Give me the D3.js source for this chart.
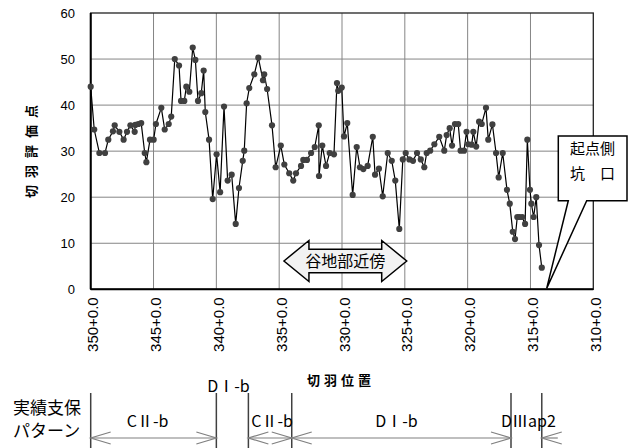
<!DOCTYPE html>
<meta charset="utf-8">
<style>
  body { margin: 0; background: #fff; }
  svg { font-family: "Liberation Sans", Arial, sans-serif; }
  .jp { font-family: "Noto Sans CJK JP", sans-serif; }
</style>
<svg id="svg" width="637" height="448"></svg>
<script src="https://cdn.jsdelivr.net/npm/d3@7"></script>
<script>

// ----------------------------------------------------------------------------
//                               DATA
// ----------------------------------------------------------------------------
// Face position (chainage, m) of each evaluation.
var chainage = [
  350.00, 349.72, 349.31, 348.86, 348.60, 348.23, 348.09, 347.72, 347.38, 347.11,
  346.84, 346.50, 346.45, 346.21, 345.98, 345.70, 345.57, 345.28, 344.99, 344.81,
  344.38, 344.11, 343.79, 343.59, 343.31, 342.97, 342.81, 342.55, 342.39, 342.15,
  341.88, 341.67, 341.46, 341.20, 341.01, 340.88, 340.58, 340.29, 339.98, 339.70,
  339.39, 339.10, 338.78, 338.46, 338.20, 337.90, 337.78, 337.59, 337.38, 336.98,
  336.66, 336.29, 336.19, 335.96, 335.57, 335.28, 334.87, 334.59, 334.20, 333.88,
  333.66, 333.26, 333.08, 332.79, 332.46, 332.17, 331.85, 331.83, 331.57, 331.27,
  330.98, 330.64, 330.40, 330.30, 330.02, 329.84, 329.58, 329.15, 328.83, 328.57,
  328.30, 327.96, 327.55, 327.37, 327.06, 326.76, 326.36, 326.04, 325.76, 325.44,
  325.16, 324.93, 324.64, 324.35, 324.03, 323.73, 323.45, 323.26, 322.98, 322.65,
  322.26, 321.86, 321.67, 321.43, 321.24, 321.01, 320.75, 320.56, 320.29, 320.09,
  319.95, 319.68, 319.55, 319.32, 319.09, 318.88, 318.54, 318.36, 318.03, 317.74,
  317.53, 317.21, 316.87, 316.65, 316.41, 316.23, 316.05, 315.89, 315.66, 315.43,
  315.25, 315.04, 314.93, 314.75, 314.54, 314.32, 314.10
];

// Face evaluation score.
var score = [
  44.0, 34.7, 29.6, 29.6, 32.5, 34.3, 35.6, 34.2, 32.5, 34.2,
  35.6, 34.2, 35.7, 35.9, 36.1, 29.6, 27.6, 32.5, 32.5, 35.9,
  39.4, 34.7, 35.9, 37.5, 50.0, 48.6, 40.9, 40.9, 44.0, 42.9,
  52.5, 49.8, 40.9, 42.6, 47.5, 38.5, 32.5, 19.6, 29.3, 21.1,
  39.7, 23.6, 24.9, 14.2, 22.0, 27.9, 30.1, 40.4, 43.7, 46.7,
  50.3, 45.4, 46.7, 43.5, 35.6, 26.5, 31.2, 27.1, 25.2, 23.6,
  25.2, 26.8, 28.1, 28.1, 29.6, 30.9, 35.6, 24.6, 31.2, 26.8,
  29.6, 29.3, 44.8, 43.1, 43.8, 33.2, 36.1, 20.5, 30.9, 26.5,
  26.1, 26.8, 33.1, 24.9, 26.2, 20.2, 29.6, 27.9, 23.6, 13.1,
  28.2, 29.6, 28.2, 27.9, 29.6, 28.2, 26.5, 29.6, 30.1, 31.5,
  33.1, 30.1, 33.5, 35.0, 31.2, 35.9, 35.9, 30.1, 30.1, 34.2,
  31.5, 31.4, 34.2, 31.0, 36.4, 35.9, 39.4, 32.5, 35.8, 29.6,
  24.3, 29.6, 21.6, 18.6, 12.5, 10.9, 15.7, 15.7, 15.7, 14.2,
  32.5, 21.6, 18.6, 15.7, 20.0, 9.6, 4.7
];

// Axis ticks.
var xTicks = [350, 345, 340, 335, 330, 325, 320, 315, 310];
var xTickLabels = ["350+0.0", "345+0.0", "340+0.0", "335+0.0", "330+0.0",
                   "325+0.0", "320+0.0", "315+0.0", "310+0.0"];
var yTicks = [0, 10, 20, 30, 40, 50, 60];

// Actual support pattern boundaries and names.
var supportBounds = [350, 340, 337.45, 334.0, 316.55, 314.1];
var supportNames = ["CⅡ-b", "DⅠ-b", "CⅡ-b", "DⅠ-b", "DⅢap2"];

// ----------------------------------------------------------------------------
//                               CHART
// ----------------------------------------------------------------------------
var svg = d3.select("svg");
var pLeft = 90.7, pTop = 13, pRight = 593.3, pBottom = 289.3;

var x = d3.scaleLinear().domain([350, 310]).range([pLeft, pRight]);
var y = d3.scaleLinear().domain([0, 60]).range([pBottom, pTop]);

// Grid lines
svg.append("g").selectAll("line")
  .data(xTicks.slice(1, -1))
  .enter().append("line")
    .attr("x1", d => x(d)).attr("x2", d => x(d))
    .attr("y1", pTop).attr("y2", pBottom)
    .attr("stroke", "#858585").attr("stroke-width", 1);

svg.append("g").selectAll("line")
  .data(yTicks.slice(1, -1))
  .enter().append("line")
    .attr("x1", pLeft).attr("x2", pRight)
    .attr("y1", d => y(d)).attr("y2", d => y(d))
    .attr("stroke", "#858585").attr("stroke-width", 1);

// Plot frame
svg.append("rect")
  .attr("x", pLeft).attr("y", pTop)
  .attr("width", pRight - pLeft).attr("height", pBottom - pTop)
  .attr("fill", "none").attr("stroke", "#222").attr("stroke-width", 1.3);
svg.append("line")
  .attr("x1", pLeft).attr("x2", pLeft).attr("y1", pTop).attr("y2", pBottom)
  .attr("stroke", "#000").attr("stroke-width", 2);
svg.append("line")
  .attr("x1", pLeft).attr("x2", pRight).attr("y1", pBottom).attr("y2", pBottom)
  .attr("stroke", "#000").attr("stroke-width", 2);

// Y tick labels
svg.append("g").selectAll("text")
  .data(yTicks)
  .enter().append("text")
    .attr("x", 75).attr("y", d => y(d))
    .attr("dy", "0.35em")
    .attr("text-anchor", "end")
    .attr("font-size", 13)
    .text(d => d);

// X tick labels (rotated)
svg.append("g").selectAll("text")
  .data(xTicks)
  .enter().append("text")
    .attr("transform", d => "translate(" + (x(d) + 7.5) + "," + (pBottom + 8) + ") rotate(-90)")
    .attr("text-anchor", "end")
    .attr("font-size", 15)
    .text((d, i) => xTickLabels[i]);

// Axis titles
svg.append("text")
  .attr("class", "jp")
  .attr("transform", "translate(36,148) rotate(-90)")
  .attr("text-anchor", "middle")
  .attr("font-size", 13).attr("font-weight", "bold")
  .attr("letter-spacing", 7)
  .text("切羽評価点");

svg.append("text")
  .attr("class", "jp")
  .attr("x", 341).attr("y", 385)
  .attr("text-anchor", "middle")
  .attr("font-size", 13).attr("font-weight", "bold")
  .attr("letter-spacing", 4)
  .text("切羽位置");

// "谷地部近傍" double arrow
var aL = x(334.62), aR = x(324.85), aY = y(6.15);
var headLen = 25, headH = 20.5, shaftH = 11.7;
svg.append("path")
  .attr("d", [
    "M", aL, aY,
    "L", aL + headLen, aY - headH,
    "L", aL + headLen, aY - shaftH,
    "L", aR - headLen, aY - shaftH,
    "L", aR - headLen, aY - headH,
    "L", aR, aY,
    "L", aR - headLen, aY + headH,
    "L", aR - headLen, aY + shaftH,
    "L", aL + headLen, aY + shaftH,
    "L", aL + headLen, aY + headH, "Z"].join(" "))
  .attr("fill", "#f2f2f2").attr("stroke", "#000").attr("stroke-width", 1.5);
svg.append("text")
  .attr("class", "jp")
  .attr("x", (aL + aR) / 2).attr("y", aY)
  .attr("dy", "0.36em")
  .attr("text-anchor", "middle")
  .attr("font-size", 16)
  .text("谷地部近傍");

// Callout "起点側 坑口"
var tipX = x(313.71), tipY = y(0.2);
svg.append("path")
  .attr("d", "M558.3,136 L627,136 L627,200.7 L586.7,200.7 L" + tipX + "," + tipY +
             " L568.3,200.7 L558.3,200.7 Z")
  .attr("fill", "#fff").attr("stroke", "#000").attr("stroke-width", 1.5);
svg.append("text")
  .attr("class", "jp")
  .attr("x", 570).attr("y", 154)
  .attr("font-size", 15)
  .text("起点側");
svg.append("text")
  .attr("class", "jp")
  .attr("x", 570).attr("y", 179)
  .attr("font-size", 15)
  .text("坑　口");

// Data line + markers
var line = d3.line()
  .x((d, i) => x(chainage[i]))
  .y(d => y(d));

svg.append("path")
  .datum(score)
  .attr("d", line)
  .attr("fill", "none").attr("stroke", "#000").attr("stroke-width", 1.2);

svg.append("g").selectAll("circle")
  .data(score)
  .enter().append("circle")
    .attr("cx", (d, i) => x(chainage[i]))
    .attr("cy", d => y(d))
    .attr("r", 3.1)
    .attr("fill", "#404040");

// ----------------------------------------------------------------------------
//                        Support pattern strip
// ----------------------------------------------------------------------------
svg.append("text").attr("class", "jp")
  .attr("x", 13).attr("y", 414).attr("font-size", 17).text("実績支保");
svg.append("text").attr("class", "jp")
  .attr("x", 13).attr("y", 437).attr("font-size", 17).text("パターン");

svg.append("g").selectAll("line")
  .data(supportBounds)
  .enter().append("line")
    .attr("x1", d => x(d)).attr("x2", d => x(d))
    .attr("y1", 393).attr("y2", 448)
    .attr("stroke", "#404040").attr("stroke-width", 1.5);

var arrowY = 438, ah = 20, aw = 6;
function head(px, dir) {
  // open V arrowhead with its tip at px, pointing in dir (+1 right, -1 left)
  return "M" + (px - dir * ah) + "," + (arrowY - aw) + " L" + px + "," + arrowY +
         " L" + (px - dir * ah) + "," + (arrowY + aw);
}
var arrows = svg.append("g")
  .attr("fill", "none").attr("stroke", "#808080").attr("stroke-width", 1.2);

supportNames.forEach(function(name, i) {
  var x0 = x(supportBounds[i]), x1 = x(supportBounds[i + 1]);
  var cx = (x0 + x1) / 2;
  if (i == 1) {
    // narrow segment: label above, no arrow
    svg.append("text").attr("class", "jp")
      .attr("x", cx - 4).attr("y", 392).attr("text-anchor", "middle")
      .attr("font-size", 16).text(name);
    return;
  }
  if (i == 4) {
    // narrow segment: arrows from outside
    arrows.append("path").attr("d", "M" + (x1 + 16) + "," + arrowY + " L" + x1 + "," + arrowY);
    arrows.append("path").attr("d", head(x1, -1));
  } else {
    arrows.append("path").attr("d", "M" + x0 + "," + arrowY + " L" + x1 + "," + arrowY);
    arrows.append("path").attr("d", head(x0, -1));
    arrows.append("path").attr("d", head(x1, 1));
  }
  svg.append("text").attr("class", "jp")
    .attr("x", i == 0 ? cx - 6 : (i == 3 ? cx - 5 : cx + 2)).attr("y", 427)
    .attr("text-anchor", "middle")
    .attr("font-size", 16).text(name);
});

</script>
